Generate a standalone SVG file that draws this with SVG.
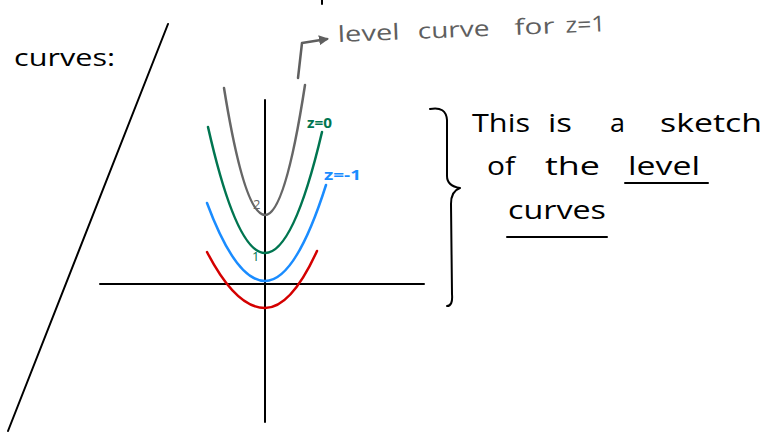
<svg xmlns="http://www.w3.org/2000/svg" width="766" height="432" viewBox="0 0 766 432">
<style>
  .ink{fill:none;stroke:#000;stroke-width:2;stroke-linecap:round;stroke-linejoin:round}
  .curve{fill:none;stroke-width:2.5;stroke-linecap:round}
  .hand{font-family:"Open Sans","DejaVu Sans",sans-serif;fill:#000}
</style>
<defs>
  <marker id="ah" viewBox="0 0 10 10" refX="8" refY="5" markerWidth="4" markerHeight="4" orient="auto">
    <path d="M0,0 L10,5 L0,10 Z" fill="#5f5f5f"/>
  </marker>
</defs>
<rect width="766" height="432" fill="#fff"/>

<g id="stray-tick"><line class="ink" x1="322" y1="0" x2="322" y2="4"/></g>

<g id="label-curves">
  <text class="hand" x="14" y="66" font-size="24" textLength="101" lengthAdjust="spacingAndGlyphs">curves:</text>
</g>

<g id="diagonal"><line class="ink" x1="168" y1="24" x2="8" y2="431"/></g>

<g id="axes">
  <line class="ink" x1="100" y1="284" x2="424" y2="284"/>
  <line class="ink" x1="265" y1="100" x2="265" y2="422"/>
</g>

<g id="curve-z1">
  <path class="curve" stroke="#666" d="M224,88 Q244.5,215 265,215 Q285,215 305,85"/>
  <text x="253" y="209" font-family="Open Sans, sans-serif" font-size="13" fill="#666">2</text>
</g>
<g id="curve-z0">
  <path class="curve" stroke="#007550" d="M208,127 Q236.5,253 265,253 Q293.5,253 322,132"/>
  <text x="252" y="261" font-family="Open Sans, sans-serif" font-size="13" fill="#007550">1</text>
  <text x="307" y="128" font-family="Open Sans, sans-serif" font-size="14" font-weight="bold" fill="#007550" textLength="25" lengthAdjust="spacingAndGlyphs">z=0</text>
</g>
<g id="curve-zm1">
  <path class="curve" stroke="#1a8cff" d="M207,203 Q236,281 265,281 Q295.5,281 326,185"/>
  <text x="324" y="180" font-family="Open Sans, sans-serif" font-size="14" font-weight="bold" fill="#1a8cff" textLength="37" lengthAdjust="spacingAndGlyphs">z=-1</text>
</g>
<g id="curve-red">
  <path class="curve" stroke="#d40000" d="M207,252 Q236,308 265,308 Q291,308 317,251"/>
</g>

<g id="connectors">
  <path d="M298,78 L302,43 L327,39" fill="none" stroke="#5f5f5f" stroke-width="2.5" stroke-linecap="round" stroke-linejoin="round" marker-end="url(#ah)"/>
</g>

<g id="label-level-z1">
  <text font-family="Open Sans, sans-serif" font-size="22" fill="#5f5f5f" transform="rotate(-2.3 338 42)" y="42"><tspan x="338" textLength="62" lengthAdjust="spacingAndGlyphs">level</tspan><tspan x="418" textLength="72" lengthAdjust="spacingAndGlyphs">curve</tspan><tspan x="515" textLength="40" lengthAdjust="spacingAndGlyphs">for</tspan><tspan x="566" textLength="40" lengthAdjust="spacingAndGlyphs">z=1</tspan></text>
</g>

<g id="brace">
  <path class="ink" d="M430,109 Q446,106 447,120 L447,176 Q447,186 460,188 Q451,191 451,204 L452,294 Q453,306 447,306"/>
</g>

<g id="note">
  <text class="hand" y="132" font-size="26"><tspan x="472" textLength="58" lengthAdjust="spacingAndGlyphs">This</tspan><tspan x="548" textLength="24" lengthAdjust="spacingAndGlyphs">is</tspan><tspan x="610" textLength="15" lengthAdjust="spacingAndGlyphs">a</tspan><tspan x="660" textLength="102" lengthAdjust="spacingAndGlyphs">sketch</tspan></text>
  <text class="hand" y="175" font-size="26"><tspan x="487" textLength="28" lengthAdjust="spacingAndGlyphs">of</tspan><tspan x="545" textLength="55" lengthAdjust="spacingAndGlyphs">the</tspan><tspan x="628" textLength="72" lengthAdjust="spacingAndGlyphs">level</tspan></text>
  <line class="ink" x1="625" y1="183" x2="708" y2="183"/>
  <text class="hand" x="508" y="219" font-size="26" textLength="98" lengthAdjust="spacingAndGlyphs">curves</text>
  <line class="ink" x1="507" y1="237" x2="607" y2="237"/>
</g>
</svg>
